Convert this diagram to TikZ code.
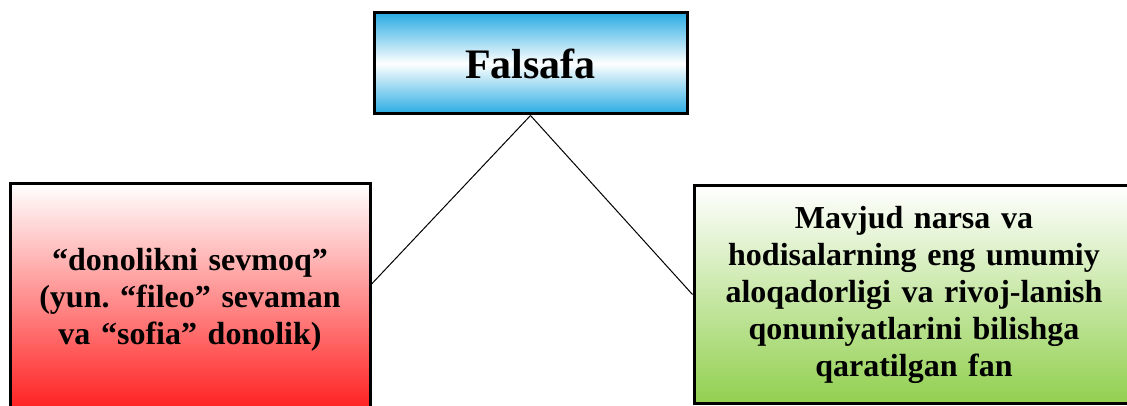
\documentclass[tikz,border=0pt]{standalone}
\usepackage{fontspec}
\setmainfont{Liberation Serif}
\frenchspacing

\definecolor{sky}{RGB}{41,171,226}
\definecolor{redbox}{RGB}{255,26,26}
\definecolor{greenbox}{RGB}{146,208,80}

\begin{document}
\begin{tikzpicture}[x=1pt, y=-1pt, main/.style={draw, rectangle, line width=3pt, inner sep=0pt, align=center, font=\bfseries\fontsize{32}{37}\selectfont}]
		\useasboundingbox (0,0) rectangle (1127,406);
		\clip (0,0) rectangle (1127,406);

		\node[main, minimum width=313pt, minimum height=101pt, top color=sky, bottom color=sky, middle color=white, font=\bfseries\fontsize{42}{48}\selectfont] (falsafa) at (530.5,63.5) {Falsafa};
		\node[main, minimum width=360pt, minimum height=232pt, text width=340pt, top color=white, bottom color=redbox] (donolik) at (190,300) {“donolikni sevmoq”\\(yun. “fileo” sevaman\\va “sofia” donolik)};
		\node[main, minimum width=440pt, minimum height=217pt, text width=420pt, top color=white, bottom color=greenbox] (fan) at (914,294.5) {Mavjud narsa va\\hodisalarning eng umumiy\\aloqadorligi va rivoj-lanish\\qonuniyatlarini bilishga\\qaratilgan fan};

		\draw[line width=1pt] (falsafa.south) -- (donolik.5);
		\draw[line width=1pt] (falsafa.south) -- (fan.west);
	\end{tikzpicture}
\end{document}
